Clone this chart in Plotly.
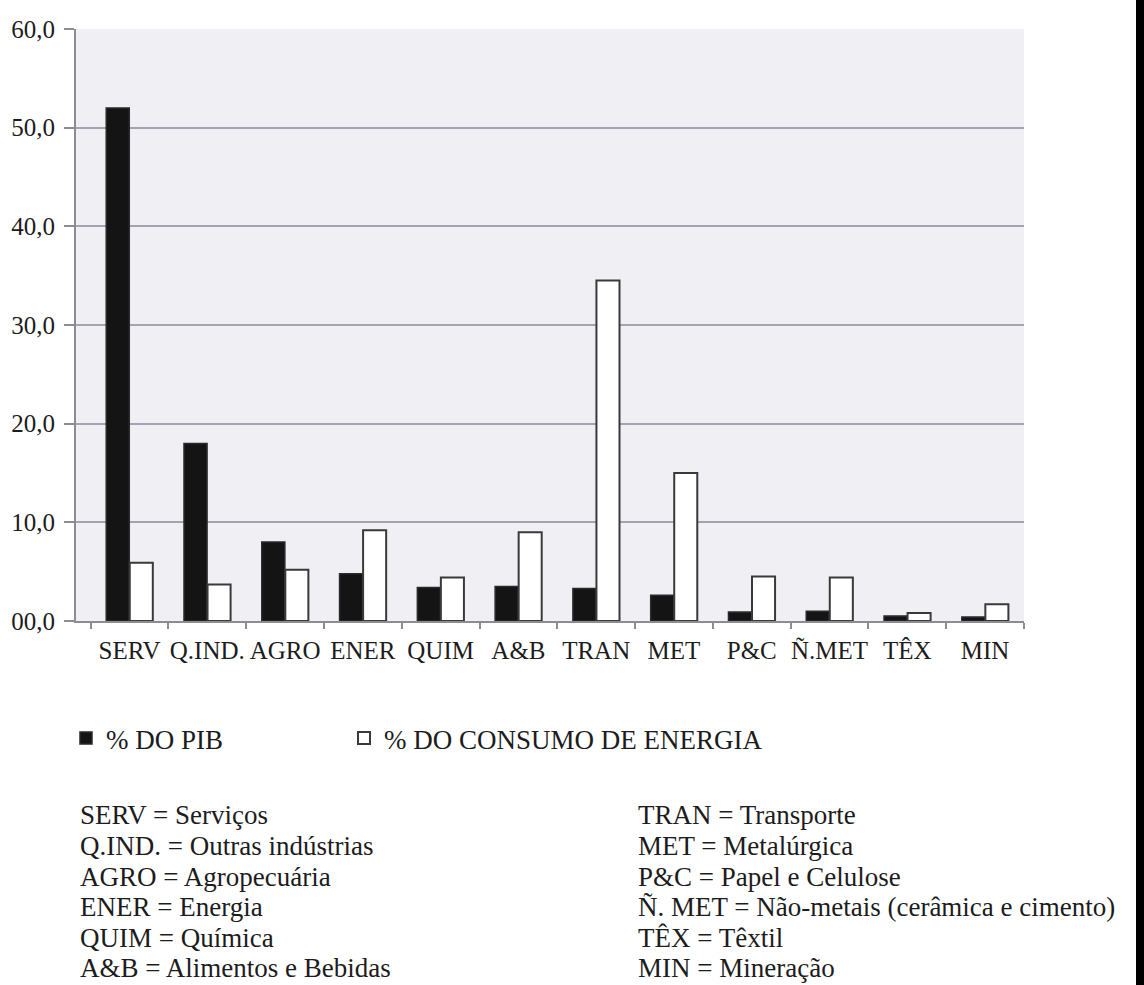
import plotly.graph_objects as go

categories = ["SERV", "Q.IND.", "AGRO", "ENER", "QUIM", "A&B", "TRAN", "MET", "P&C", "Ñ.MET", "TÊX", "MIN"]
pib = [52.0, 18.0, 8.0, 4.8, 3.4, 3.5, 3.3, 2.6, 0.9, 1.0, 0.5, 0.4]
energia = [5.9, 3.7, 5.2, 9.2, 4.4, 9.0, 34.5, 15.0, 4.5, 4.4, 0.8, 1.7]
series_names = ["% DO PIB", "% DO CONSUMO DE ENERGIA"]
y_tickvals = [0, 10, 20, 30, 40, 50, 60]
y_ticktext = ["00,0", "10,0", "20,0", "30,0", "40,0", "50,0", "60,0"]
notes_left = ["SERV = Serviços", "Q.IND. = Outras indústrias", "AGRO = Agropecuária",
              "ENER = Energia", "QUIM = Química", "A&B = Alimentos e Bebidas"]
notes_right = ["TRAN = Transporte", "MET = Metalúrgica", "P&C = Papel e Celulose",
               "Ñ. MET = Não-metais (cerâmica e cimento)", "TÊX = Têxtil", "MIN = Mineração"]

FONT = "Liberation Serif, Times New Roman, Times, serif"
TXT = "#1c1c1c"
AX = "#8c8c94"

W, H = 1144, 985
ML, MT = 76, 29
PW, PH = 948, 592
MR, MB = W - ML - PW, H - MT - PH


def py(page_y):
    return (MT + PH - page_y) / PH


def px(page_x):
    return (page_x - ML) / PW


fig = go.Figure()
fig.add_trace(go.Bar(x=categories, y=pib, name=series_names[0], legend="legend",
                     marker=dict(color="#141414", line=dict(color="#2a2a2a", width=1.5))))
fig.add_trace(go.Bar(x=categories, y=energia, name=series_names[1], legend="legend2",
                     marker=dict(color="#ffffff", line=dict(color="#3a3a3a", width=2))))

annotations = []
line_y = [815, 846, 877, 907, 938, 968]
for i, t in enumerate(notes_left):
    annotations.append(dict(text=t, x=px(78), y=py(line_y[i]),
                            xref="paper", yref="paper", xanchor="left", yanchor="middle",
                            showarrow=False, font=dict(family=FONT, size=27, color=TXT)))
for i, t in enumerate(notes_right):
    annotations.append(dict(text=t, x=px(636), y=py(line_y[i]),
                            xref="paper", yref="paper", xanchor="left", yanchor="middle",
                            showarrow=False, font=dict(family=FONT, size=27, color=TXT)))
# scanned page edge (dark strip on the right border)
annotations.append(dict(text="", x=px(1136), y=py(0), xref="paper", yref="paper",
                        xanchor="left", yanchor="top", width=8, height=985,
                        bgcolor="#000000", borderpad=0, borderwidth=0, showarrow=False))

legend_common = dict(orientation="h", xanchor="left", yanchor="top",
                     font=dict(family=FONT, size=27, color=TXT), bgcolor="rgba(0,0,0,0)")

fig.update_layout(
    width=W, height=H,
    margin=dict(l=ML, r=MR, t=MT, b=MB, autoexpand=False),
    paper_bgcolor="#ffffff",
    plot_bgcolor="#efeff4",
    barmode="group", bargap=0.395, bargroupgap=0.02,
    font=dict(family=FONT, color=TXT),
    showlegend=True,
    legend=dict(x=px(66), y=py(714), **legend_common),
    legend2=dict(x=px(344), y=py(714), **legend_common),
    annotations=annotations,
    shapes=[dict(type="rect", xref="paper", yref="paper",
                 x0=px(1136), x1=px(1150),
                 y0=py(990), y1=py(-5),
                 fillcolor="#000000", line=dict(width=0), layer="above")],
)
fig.update_xaxes(range=[-0.688, 11.5], tickangle=0, tickson="boundaries",
                 ticks="outside", ticklen=6, tickcolor=AX, tickwidth=1.5,
                 showline=True, linecolor=AX, linewidth=2, showgrid=False,
                 ticklabelstandoff=6,
                 tickfont=dict(family=FONT, size=25, color=TXT), fixedrange=True)
fig.update_yaxes(range=[0, 60], tickvals=y_tickvals, ticktext=y_ticktext,
                 ticks="outside", ticklen=10, tickcolor=AX, tickwidth=1.5,
                 showline=True, linecolor=AX, linewidth=2,
                 showgrid=True, gridcolor="#a4a4b0", gridwidth=1.5, zeroline=False,
                 ticklabelstandoff=4,
                 tickfont=dict(family=FONT, size=25, color=TXT), fixedrange=True)

fig.write_html("out.html", config={"displayModeBar": False},
               post_script="document.body.style.margin='0';document.body.style.overflow='hidden';")
